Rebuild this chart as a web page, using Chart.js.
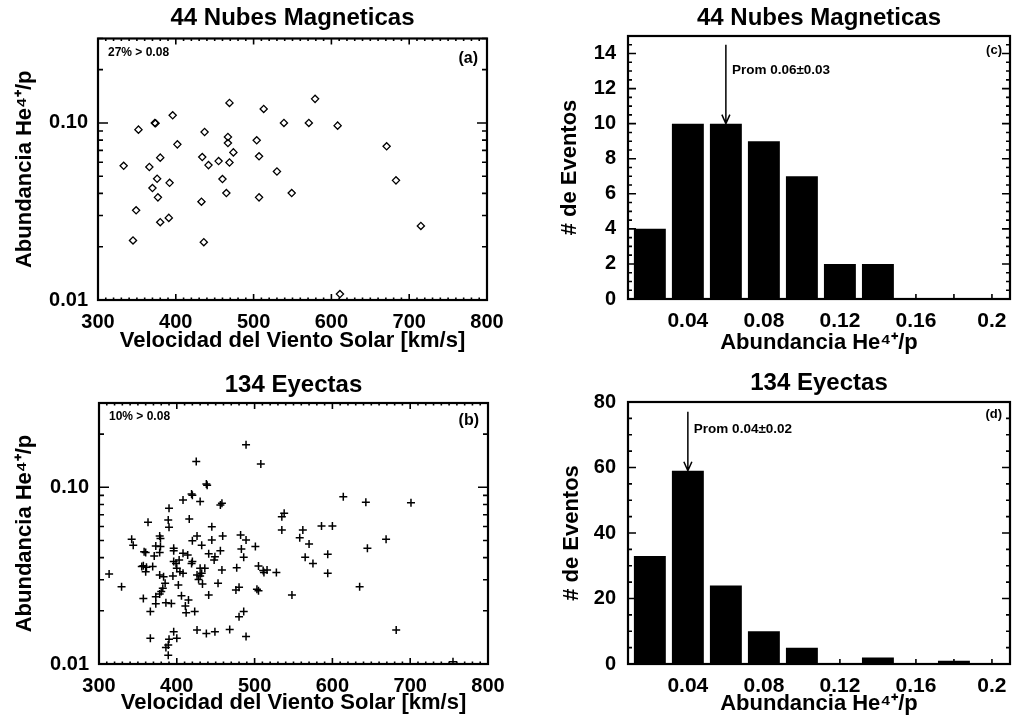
<!DOCTYPE html>
<html>
<head>
<meta charset="utf-8">
<title>Abundancia He4+/p en nubes magneticas y eyectas</title>
<script src="https://cdn.jsdelivr.net/npm/chart.js@4.4.1/dist/chart.umd.min.js"></script>
<style>
  html, body { margin: 0; padding: 0; background: #fff; }
  #wrap { position: relative; width: 1012px; height: 724px; overflow: hidden; background: #fff; }
  #wrap canvas { position: absolute; }
</style>
</head>
<body>
<div id="wrap">
  <canvas id="cloudScatter" width="506" height="362" style="left:0;top:0"></canvas>
  <canvas id="cloudHist" width="506" height="362" style="left:506px;top:0"></canvas>
  <canvas id="ejectaScatter" width="506" height="362" style="left:0;top:362px"></canvas>
  <canvas id="ejectaHist" width="506" height="362" style="left:506px;top:362px"></canvas>
</div>
<script>
// 44 nubes magneticas: velocidad del viento solar [km/s] y He4+/p
const cloudSpeed = [333, 345, 349, 352, 366, 370, 373, 374, 376, 377,
  380, 380, 392, 391, 396, 402, 433, 434, 437, 436,
  442, 455, 460, 465, 467, 467, 469, 469, 474, 504,
  507, 507, 513, 530, 539, 549, 571, 579, 608, 611,
  671, 683, 715];
const cloudHe = [0.0573, 0.0217, 0.0321, 0.0917, 0.0564, 0.0429, 0.100, 0.0995, 0.0484, 0.0380,
  0.0275, 0.0637, 0.0459, 0.0291, 0.1105, 0.0757, 0.0359, 0.0642, 0.0889, 0.0212,
  0.0578, 0.0609, 0.0482, 0.0402, 0.0833, 0.0770, 0.0598, 0.1298, 0.0682, 0.0798,
  0.0648, 0.0380, 0.1200, 0.0532, 0.100, 0.0402, 0.100, 0.1368, 0.0966, 0.0108,
  0.0738, 0.0474, 0.0262];

// 134 eyectas
const ejectaSpeed = [489, 425, 508, 438, 439, 419, 420, 408, 430, 458,
  456, 614, 643, 701, 390, 538, 535, 363, 389, 390,
  416, 445, 586, 600, 535, 562, 426, 459, 482, 489,
  342, 344, 378, 379, 420, 432, 445, 558, 570, 669,
  645, 483, 456, 501, 358, 360, 373, 379, 396, 396,
  408, 414, 371, 378, 441, 449, 448, 594, 565, 575,
  486, 357, 355, 360, 369, 396, 399, 403, 400, 404,
  408, 419, 420, 430, 436, 432, 458, 477, 505, 511,
  516, 512, 528, 594, 313, 329, 378, 383, 385, 395,
  402, 426, 428, 433, 453, 441, 382, 380, 378, 373,
  357, 406, 415, 386, 393, 411, 373, 366, 412, 423,
  476, 480, 503, 505, 548, 635, 486, 480, 396, 366,
  390, 400, 389, 386, 389, 426, 438, 449, 468, 489,
  682, 755, 361, 430];
const ejectaHe = [0.174, 0.140, 0.1355, 0.1044, 0.1026, 0.0917, 0.0901, 0.0848, 0.0830, 0.0812,
  0.0794, 0.0885, 0.0822, 0.0819, 0.0761, 0.0712, 0.0682, 0.0634, 0.0653, 0.0594,
  0.0662, 0.0599, 0.0604, 0.0604, 0.0573, 0.0573, 0.0530, 0.0530, 0.0537, 0.0503,
  0.0508, 0.0470, 0.0530, 0.0514, 0.0499, 0.0470, 0.0503, 0.0519, 0.0478, 0.0508,
  0.0452, 0.0448, 0.0438, 0.0462, 0.0432, 0.0427, 0.0466, 0.0462, 0.0452, 0.0438,
  0.0423, 0.0414, 0.0409, 0.0427, 0.0420, 0.0405, 0.0388, 0.0418, 0.0402, 0.0371,
  0.0402, 0.0360, 0.0356, 0.0333, 0.0356, 0.0380, 0.0371, 0.0388, 0.0348, 0.0333,
  0.0326, 0.0371, 0.0380, 0.0348, 0.0348, 0.0326, 0.0340, 0.0351, 0.0359, 0.0338,
  0.0340, 0.0329, 0.0329, 0.0326, 0.0323, 0.0274, 0.0319, 0.0312, 0.0286, 0.0315,
  0.0280, 0.0319, 0.0301, 0.0284, 0.0286, 0.0246, 0.0268, 0.0257, 0.0249, 0.0240,
  0.0235, 0.0243, 0.0230, 0.0222, 0.0220, 0.0213, 0.0219, 0.0198, 0.0195, 0.0198,
  0.0262, 0.0272, 0.0265, 0.0260, 0.0246, 0.0274, 0.0198, 0.0185, 0.0152, 0.0140,
  0.0138, 0.0140, 0.0128, 0.0124, 0.0112, 0.0156, 0.0149, 0.0152, 0.0157, 0.0143,
  0.0156, 0.0103, 0.0353, 0.0315];

// histogramas: centro de cada bin y numero de eventos
const binCentres = [0.02, 0.04, 0.06, 0.08, 0.10, 0.12, 0.14, 0.16, 0.18];
const cloudCounts = [4, 10, 10, 9, 7, 2, 2, 0, 0];
const ejectaCounts = [33, 59, 24, 10, 5, 0, 2, 0, 1];
const cloudMean = 0.06, cloudSigma = 0.03;
const ejectaMean = 0.04, ejectaSigma = 0.02;

// ticks
const speedLabels = [300, 400, 500, 600, 700, 800];
const heTicks = [0.01, 0.02, 0.03, 0.04, 0.05, 0.06, 0.07, 0.08, 0.09, 0.1, 0.2, 0.3];
const heLabels = [0.01, 0.1];
const binTicks = [0.02, 0.04, 0.06, 0.08, 0.10, 0.12, 0.14, 0.16, 0.18, 0.20];
const binLabelAt = [0.04, 0.08, 0.12, 0.16, 0.20];
const binLabelText = ['0.04', '0.08', '0.12', '0.16', '0.2'];
const cloudCountLabels = [0, 2, 4, 6, 8, 10, 12, 14];
const ejectaCountLabels = [0, 20, 40, 60, 80];

const FAMILY = '"Liberation Sans", Arial, Helvetica, sans-serif';
Chart.defaults.font.family = FAMILY;
Chart.defaults.color = '#000';

const tickFont = { family: FAMILY, size: 20, weight: 'bold' };
const histTickFont = { family: FAMILY, size: 21, weight: 'bold' };
const axisFont = { family: FAMILY, size: 22, weight: 'bold' };

// box around the plot area with IDL-style inward ticks
function framePlugin(cfg) {
  return {
    id: 'frame',
    afterDraw(chart) {
      const { ctx, chartArea: a, scales } = chart;
      ctx.save();
      ctx.strokeStyle = '#000';
      ctx.lineWidth = 1.6;
      ctx.beginPath();
      scales.x.ticks.forEach(t => {
        const px = scales.x.getPixelForValue(t.value);
        const len = cfg.xMajor.includes(t.value) ? cfg.xLong : cfg.xShort;
        ctx.moveTo(px, a.bottom);
        ctx.lineTo(px, a.bottom - len);
        if (cfg.xTop) {
          ctx.moveTo(px, a.top);
          ctx.lineTo(px, a.top + len);
        }
      });
      scales.y.ticks.forEach(t => {
        const py = scales.y.getPixelForValue(t.value);
        const len = cfg.yMajor.includes(t.value) ? cfg.yLong : cfg.yShort;
        ctx.moveTo(a.left, py);
        ctx.lineTo(a.left + len, py);
        ctx.moveTo(a.right, py);
        ctx.lineTo(a.right - len, py);
      });
      ctx.stroke();
      ctx.lineWidth = 2.2;
      ctx.strokeRect(a.left, a.top, a.right - a.left, a.bottom - a.top);
      ctx.restore();
    }
  };
}

// panel title, panel tag and the small notes / mean arrow
function textPlugin(cfg) {
  return {
    id: 'panelText',
    afterDraw(chart) {
      const { ctx, chartArea: a, scales } = chart;
      ctx.save();
      ctx.fillStyle = '#000';
      ctx.strokeStyle = '#000';
      ctx.textBaseline = 'middle';
      ctx.textAlign = 'center';
      ctx.font = 'bold 24px ' + FAMILY;
      ctx.fillText(cfg.title, (a.left + a.right) / 2, cfg.titleY);
      ctx.textAlign = 'right';
      ctx.font = 'bold ' + cfg.tagSize + 'px ' + FAMILY;
      ctx.fillText(cfg.tag, a.right - cfg.tagInset, a.top + cfg.tagDy);
      if (cfg.note) {
        ctx.textAlign = 'left';
        ctx.font = 'bold 12px ' + FAMILY;
        ctx.fillText(cfg.note, a.left + 10, a.top + 14);
      }
      if (cfg.mean !== undefined) {
        const x = scales.x.getPixelForValue(cfg.mean);
        const y1 = scales.y.getPixelForValue(cfg.arrowFrom);
        const y2 = scales.y.getPixelForValue(cfg.arrowTo);
        ctx.lineWidth = 1.5;
        ctx.beginPath();
        ctx.moveTo(x, y1);
        ctx.lineTo(x, y2);
        ctx.moveTo(x - 4, y2 - 9);
        ctx.lineTo(x, y2);
        ctx.lineTo(x + 4, y2 - 9);
        ctx.stroke();
        ctx.textAlign = 'left';
        ctx.font = 'bold 13.5px ' + FAMILY;
        ctx.fillText('Prom ' + cfg.mean.toFixed(2) + '\u00b1' + cfg.sigma.toFixed(2), x + 6, y1 + cfg.labelDy);
      }
      ctx.restore();
    }
  };
}

function scatterChart(id, xs, ys, opts) {
  const points = xs.map((x, i) => ({ x, y: ys[i] }));
  return new Chart(document.getElementById(id), {
    type: 'scatter',
    data: {
      datasets: [{
        data: points,
        pointStyle: opts.pointStyle,
        pointRadius: opts.radius,
        borderColor: '#000',
        backgroundColor: 'rgba(0,0,0,0)',
        pointBorderWidth: opts.lineWidth
      }]
    },
    options: {
      responsive: false,
      animation: false,
      events: [],
      layout: { padding: { top: opts.top, right: opts.right, left: 0, bottom: 0 } },
      plugins: { legend: { display: false }, tooltip: { enabled: false } },
      scales: {
        x: {
          type: 'linear', min: 300, max: 800,
          grid: { display: false, drawTicks: false }, border: { display: false },
          ticks: {
            stepSize: 10, autoSkip: false, maxRotation: 0, padding: 10, font: tickFont,
            callback: v => speedLabels.includes(v) ? String(v) : ''
          },
          title: { display: true, text: 'Velocidad del Viento Solar [km/s]', font: axisFont, padding: { top: 0, bottom: opts.xTitlePad } },
          afterFit: s => { s.height = opts.xHeight; s.paddingLeft = 0; s.paddingRight = 0; }
        },
        y: {
          type: 'logarithmic', min: 0.01, max: 0.3,
          grid: { display: false, drawTicks: false }, border: { display: false },
          afterBuildTicks: s => { s.ticks = heTicks.map(v => ({ value: v })); },
          ticks: {
            autoSkip: false, padding: 10, font: tickFont,
            callback: v => heLabels.includes(v) ? v.toFixed(2) : ''
          },
          title: { display: true, text: 'Abundancia He\u2074\u207a/p', font: axisFont, padding: { top: 12, bottom: 0 } },
          afterFit: s => { s.width = opts.yWidth; s.paddingTop = 0; s.paddingBottom = 0; }
        }
      }
    },
    plugins: [
      framePlugin({ xMajor: speedLabels, xLong: 6, xShort: 2.5, xTop: true, yMajor: heLabels, yLong: 10, yShort: 5 }),
      textPlugin(opts.text)
    ]
  });
}

function histChart(id, counts, opts) {
  const bars = binCentres.map((x, i) => ({ x, y: counts[i] }));
  return new Chart(document.getElementById(id), {
    type: 'bar',
    data: {
      datasets: [{
        data: bars,
        backgroundColor: '#000',
        borderWidth: 0,
        barPercentage: 0.84,
        categoryPercentage: 1.0
      }]
    },
    options: {
      responsive: false,
      animation: false,
      events: [],
      layout: { padding: { top: opts.top, right: opts.right, left: 0, bottom: 0 } },
      plugins: { legend: { display: false }, tooltip: { enabled: false } },
      scales: {
        x: {
          type: 'linear', min: 0.0085, max: 0.2095, offset: false,
          grid: { display: false, drawTicks: false }, border: { display: false },
          afterBuildTicks: s => { s.ticks = binTicks.map(v => ({ value: v })); },
          ticks: {
            autoSkip: false, maxRotation: 0, padding: 10, font: histTickFont,
            callback: v => { const k = binLabelAt.indexOf(v); return k >= 0 ? binLabelText[k] : ''; }
          },
          title: { display: true, text: 'Abundancia He\u2074\u207a/p', font: axisFont, padding: { top: 0, bottom: opts.xTitlePad } },
          afterFit: s => { s.height = opts.xHeight; s.paddingLeft = 0; s.paddingRight = 0; }
        },
        y: {
          type: 'linear', min: 0, max: opts.yMax,
          grid: { display: false, drawTicks: false }, border: { display: false },
          ticks: {
            stepSize: opts.yMinor, autoSkip: false, padding: 12, font: tickFont,
            callback: v => opts.yLabels.includes(v) ? String(v) : ''
          },
          title: { display: true, text: '# de Eventos', font: axisFont, padding: { top: opts.yTitlePad, bottom: 0 } },
          afterFit: s => { s.width = opts.yWidth; s.paddingTop = 0; s.paddingBottom = 0; }
        }
      }
    },
    plugins: [
      framePlugin({ xMajor: binTicks, xLong: 5, xShort: 5, xTop: false, yMajor: opts.yLabels, yLong: 8, yShort: 4 }),
      textPlugin(opts.text)
    ]
  });
}

scatterChart('cloudScatter', cloudSpeed, cloudHe, {
  pointStyle: 'rectRot', radius: 3.6, lineWidth: 1.3,
  top: 38.5, right: 19, yWidth: 98, xHeight: 62, xTitlePad: 8,
  text: { title: '44 Nubes Magneticas', titleY: 18, tag: '(a)', tagSize: 16, tagInset: 9, tagDy: 20, note: '27% > 0.08' }
});

scatterChart('ejectaScatter', ejectaSpeed, ejectaHe, {
  pointStyle: 'cross', radius: 4, lineWidth: 1.5,
  top: 41, right: 18, yWidth: 99, xHeight: 60, xTitlePad: 7.5,
  text: { title: '134 Eyectas', titleY: 23, tag: '(b)', tagSize: 16, tagInset: 9, tagDy: 18, note: '10% > 0.08' }
});

histChart('cloudHist', cloudCounts, {
  top: 36, right: 2, yWidth: 122, xHeight: 63, xTitlePad: 5.5, yTitlePad: 51,
  yMax: 15, yMinor: 0.5, yLabels: cloudCountLabels,
  text: { title: '44 Nubes Magneticas', titleY: 18, tag: '(c)', tagSize: 13, tagInset: 8, tagDy: 14,
    mean: cloudMean, sigma: cloudSigma, arrowFrom: 14.5, arrowTo: 10, labelDy: 26 }
});

histChart('ejectaHist', ejectaCounts, {
  top: 40, right: 2, yWidth: 122, xHeight: 60, xTitlePad: 7, yTitlePad: 53,
  yMax: 80, yMinor: 5, yLabels: ejectaCountLabels,
  text: { title: '134 Eyectas', titleY: 21, tag: '(d)', tagSize: 13, tagInset: 8, tagDy: 12,
    mean: ejectaMean, sigma: ejectaSigma, arrowFrom: 77, arrowTo: 59, labelDy: 17 }
});
</script>
</body>
</html>
